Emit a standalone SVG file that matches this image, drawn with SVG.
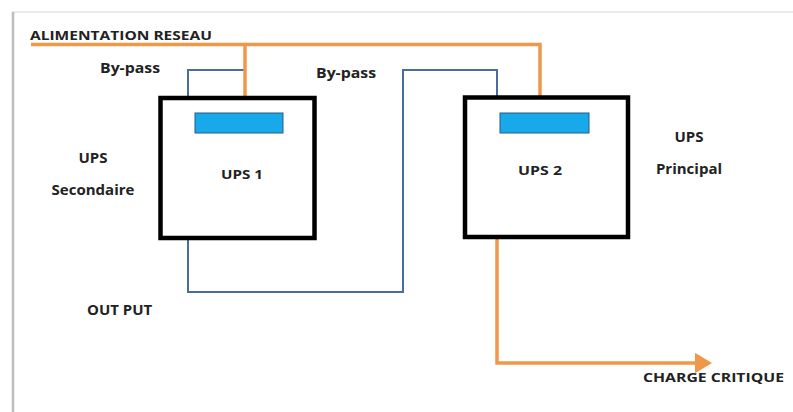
<svg xmlns="http://www.w3.org/2000/svg" width="793" height="412" viewBox="0 0 793 412">
<defs>
<style>
.lbl{font-family:"Open Sans","Liberation Sans",sans-serif;font-weight:bold;fill:#222;}
.box{fill:#fff;stroke:#000;stroke-width:4.5;}
.scr{fill:#17A9EA;stroke:#2A5A80;stroke-width:1;}
.pwr{fill:none;stroke:#F0984A;stroke-width:3.5;}
.byp{fill:none;stroke:#4A6C9E;stroke-width:2;}
</style>
<marker id="arr" markerWidth="6" markerHeight="6" refX="1" refY="3" orient="auto" markerUnits="strokeWidth">
<path d="M0,0 L5,3 L0,6 Z" fill="#F0984A"/>
</marker>
</defs>
<rect width="793" height="412" fill="#fff"/>
<line x1="12" y1="12" x2="793" y2="12" stroke="#e4e4e4" stroke-width="1.5"/>
<line x1="13" y1="12" x2="13" y2="412" stroke="#bdbdbd" stroke-width="2.5"/>

<g id="connectors">
<path class="byp" d="M188,97 V70 H245"/>
<path class="byp" d="M497,97 V70 H403 V292 H188 V238"/>
<path class="pwr" d="M31,44.5 H540 V97"/>
<path class="pwr" d="M245,44.5 V97"/>
<path class="pwr" d="M497,237 V363 H698" marker-end="url(#arr)"/>
</g>

<g id="ups1">
<rect class="box" x="160.5" y="98" width="154" height="140"/>
<rect class="scr" x="195" y="113" width="88" height="20"/>
<text class="lbl" x="221" y="179" font-size="12" textLength="42" lengthAdjust="spacingAndGlyphs" fill="#333">UPS 1</text>
</g>

<g id="ups2">
<rect class="box" x="465" y="97.5" width="163" height="139.5"/>
<rect class="scr" x="500" y="113" width="89" height="20"/>
<text class="lbl" x="518" y="175" font-size="12" textLength="44" lengthAdjust="spacingAndGlyphs" fill="#333">UPS 2</text>
</g>

<g id="labels">
<text class="lbl" x="30" y="40" font-size="11.5" textLength="182" lengthAdjust="spacingAndGlyphs">ALIMENTATION RESEAU</text>
<text class="lbl" x="100" y="73" font-size="14" textLength="60" lengthAdjust="spacingAndGlyphs">By-pass</text>
<text class="lbl" x="316" y="78" font-size="14" textLength="60" lengthAdjust="spacingAndGlyphs">By-pass</text>
<text class="lbl" x="93" y="163" font-size="15" text-anchor="middle">UPS</text>
<text class="lbl" x="93" y="195" font-size="15" text-anchor="middle">Secondaire</text>
<text class="lbl" x="689" y="142" font-size="15" text-anchor="middle">UPS</text>
<text class="lbl" x="689" y="174" font-size="15" text-anchor="middle">Principal</text>
<text class="lbl" x="87" y="315" font-size="15">OUT PUT</text>
<text class="lbl" x="643" y="382" font-size="11.5" textLength="141" lengthAdjust="spacingAndGlyphs">CHARGE CRITIQUE</text>
</g>
</svg>
